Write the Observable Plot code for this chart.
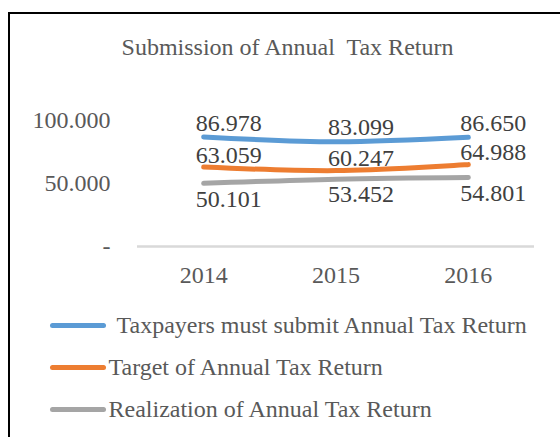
<!DOCTYPE html>
<html>
<head>
<meta charset="utf-8">
<script src="https://cdn.jsdelivr.net/npm/d3@7"></script>
<script src="https://cdn.jsdelivr.net/npm/@observablehq/plot@0.6"></script>
<style>
  html, body { margin: 0; padding: 0; background: #fff; }
  body { position: relative; width: 560px; height: 437px; overflow: hidden; font-family: "Liberation Serif", "Times New Roman", serif; }
  #frame { position: absolute; left: 8px; top: 12px; width: 620px; height: 500px; border-left: 2px solid #000; border-top: 2px solid #000; pointer-events: none; }
  #title { position: absolute; left: 0; top: 35px; width: 575px; text-align: center; font-size: 24px; line-height: 24px; color: #595959; white-space: pre; }
  #chart { position: absolute; left: 0; top: 80px; }
  #chart svg text { font-family: "Liberation Serif", "Times New Roman", serif; }
  .sw { position: absolute; left: 50px; width: 56px; height: 5px; border-radius: 2.5px; }
  .lt { position: absolute; font-size: 24px; line-height: 24px; color: #595959; white-space: pre; }
</style>
</head>
<body>
<div id="title">Submission of Annual  Tax Return</div>
<div id="chart"></div>
<div id="legend"></div>
<div id="frame"></div>
<script>
const years = [2014, 2015, 2016];
const taxpayers = [86978, 83099, 86650];
const target = [63059, 60247, 64988];
const realization = [50101, 53452, 54801];
const seriesNames = [
  "Taxpayers must submit Annual Tax Return",
  "Target of Annual Tax Return",
  "Realization of Annual Tax Return"
];
const seriesColors = ["#5B9BD5", "#ED7D31", "#A5A5A5"];
const yTicks = [0, 50000, 100000];

const fmt = v => v === 0 ? "-" : d3.format(",")(v).replace(/,/g, ".");
const rows = s => years.map((yr, i) => ({year: yr, value: s[i]}));
const allSeries = [taxpayers, target, realization];
const labelDy = [-14, -12, 15.5];
const serif = "Liberation Serif";

const marks = [
  Plot.ruleY([0], {stroke: "#D9D9D9", strokeWidth: 2.5}),
  Plot.axisY({ticks: yTicks, tickFormat: fmt, tickSize: 0, tickPadding: 27, fill: "#595959", label: null, fontFamily: serif}),
  Plot.axisX({ticks: years, tickFormat: d => String(d), tickSize: 0, tickPadding: 19, fill: "#595959", label: null, fontFamily: serif})
];
allSeries.forEach((s, k) => {
  marks.push(Plot.line(rows(s), {x: "year", y: "value", stroke: seriesColors[k], strokeWidth: 5, strokeLinecap: "round", curve: "catmull-rom"}));
});
allSeries.forEach((s, k) => {
  marks.push(Plot.text(rows(s), {x: "year", y: "value", text: d => fmt(d.value), dx: 25, dy: labelDy[k], fill: "#404040", fontSize: 24, fontFamily: serif}));
});

const chart = Plot.plot({
  width: 560,
  height: 230,
  marginTop: 40,
  marginBottom: 64,
  marginLeft: 137,
  marginRight: 26,
  x: {type: "linear", domain: [2013.5, 2016.5], label: null},
  y: {domain: [0, 100000], label: null},
  style: {fontFamily: "'Liberation Serif', 'Times New Roman', serif", fontSize: "24px", color: "#595959", background: "none", overflow: "visible"},
  marks
});
document.getElementById("chart").appendChild(chart);

const legend = document.getElementById("legend");
seriesNames.forEach((name, i) => {
  const sw = document.createElement("div");
  sw.className = "sw";
  sw.style.top = (325 + 42.2 * i - 2.5) + "px";
  sw.style.background = seriesColors[i];
  legend.appendChild(sw);
  const t = document.createElement("div");
  t.className = "lt";
  t.style.top = (312.6 + 42 * i) + "px";
  t.style.left = (i === 0 ? 111 : 108.5) + "px";
  t.textContent = (i === 0 ? " " : "") + name;
  legend.appendChild(t);
});
</script>
</body>
</html>
